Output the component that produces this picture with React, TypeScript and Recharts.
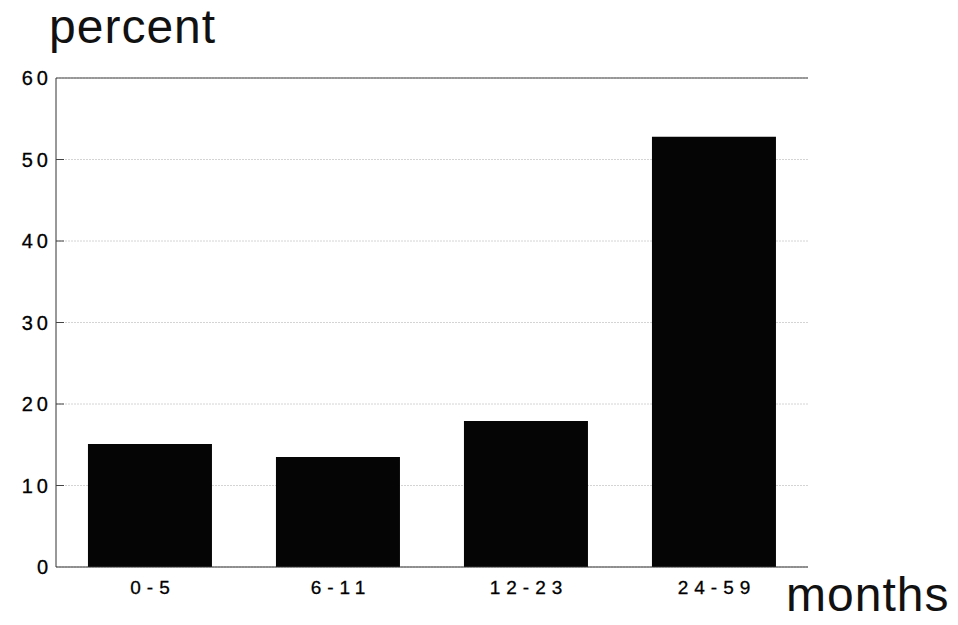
import { BarChart, Bar, XAxis, YAxis, CartesianGrid, ReferenceLine } from "recharts";

const ageGroups = ["0-5", "6-11", "12-23", "24-59"];
const percentValues = [15.1, 13.5, 17.9, 52.8];
const yTicks = [0, 10, 20, 30, 40, 50, 60];

const data = ageGroups.map((g, i) => ({ group: g, value: percentValues[i] }));

const font = "'Liberation Sans', Arial, sans-serif";

const YTick = ({ x, y, payload }: any) => (
  <g>
    <text x={x + 4} y={y} dy={7} textAnchor="end" fontSize={20} fontFamily={font} letterSpacing={4} fill="#000" stroke="#000" strokeWidth={0.3}>
      {payload.value}
    </text>
    {payload.value !== 0 && payload.value !== 60 && (
      <line x1={x + 8} x2={x + 16} y1={y} y2={y} stroke="#444" strokeWidth={1} />
    )}
  </g>
);

const XTick = ({ x, y, payload }: any) => (
  <text x={x + 3} y={y} dy={19} textAnchor="middle" fontSize={19} fontFamily={font} letterSpacing={6} fill="#000" stroke="#000" strokeWidth={0.3}>
    {payload.value}
  </text>
);

export default function App() {
  return (
    <div style={{ position: "absolute", left: 0, top: 0, width: 958, height: 625, background: "#fff" }}>
      <BarChart width={958} height={625} data={data} margin={{ top: 78, right: 150, bottom: 28, left: 0 }} barCategoryGap="17%">
        <CartesianGrid vertical={false} stroke="#d4d4d4" strokeDasharray="2 1" />
        <XAxis dataKey="group" height={30} tickLine={false} stroke="#333" tick={<XTick />} />
        <YAxis domain={[0, 60]} ticks={yTicks} width={56} tickLine={false} tickSize={0} tickMargin={8} stroke="#333" tick={<YTick />} interval={0} />
        <YAxis yAxisId="r" orientation="right" width={0} tick={false} tickLine={false} stroke="#999" domain={[0, 60]} />
        <ReferenceLine y={60} stroke="#444" />
        <Bar dataKey="value" fill="#050505" isAnimationActive={false} />
      </BarChart>
      <svg width={958} height={625} style={{ position: "absolute", left: 0, top: 0, pointerEvents: "none" }}>
        <text x={49} y={43} fontFamily={font} fontSize={48} letterSpacing={1} fill="#111">percent</text>
        <text x={786} y={611} fontFamily={font} fontSize={48} letterSpacing={1} fill="#111">months</text>
      </svg>
    </div>
  );
}
